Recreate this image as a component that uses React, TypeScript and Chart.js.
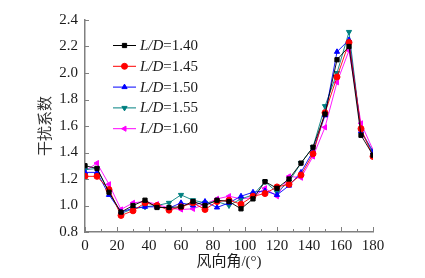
import React, { useEffect, useRef } from 'react';
import { Chart, registerables } from 'chart.js';
import { drawPoint } from 'chart.js/helpers';

Chart.register(...registerables);

const angles = [0, 7.5, 15, 22.5, 30, 37.5, 45, 52.5, 60, 67.5, 75, 82.5, 90, 97.5, 105, 112.5, 120, 127.5, 135, 142.5, 150, 157.5, 165, 172.5, 180];

const ld140 = [1.30, 1.28, 1.10, 0.95, 1.00, 1.04, 0.985, 0.985, 0.99, 1.03, 1.00, 1.04, 1.03, 0.975, 1.05, 1.18, 1.13, 1.20, 1.32, 1.44, 1.69, 2.10, 2.20, 1.53, 1.38];
const ld145 = [1.22, 1.22, 1.12, 0.925, 0.96, 1.02, 1.00, 0.965, 0.99, 1.02, 0.97, 1.03, 1.04, 1.01, 1.07, 1.09, 1.14, 1.16, 1.23, 1.39, 1.70, 1.97, 2.23, 1.58, 1.37];
const ld150 = [1.25, 1.25, 1.08, 0.95, 0.98, 0.99, 0.99, 0.98, 1.02, 1.00, 1.03, 0.985, 1.02, 1.07, 1.10, 1.11, 1.08, 1.15, 1.25, 1.41, 1.68, 2.16, 2.25, 1.56, 1.40];
const ld155 = [1.27, 1.28, 1.10, 0.94, 0.975, 0.99, 1.00, 1.02, 1.08, 1.04, 1.02, 1.03, 1.00, 1.05, 1.08, 1.18, 1.10, 1.18, 1.32, 1.44, 1.75, 2.00, 2.31, 1.56, 1.41];
const ld160 = [1.26, 1.32, 1.16, 0.97, 1.02, 1.03, 1.01, 0.98, 0.97, 0.975, 1.01, 1.05, 1.07, 1.05, 1.06, 1.13, 1.07, 1.22, 1.21, 1.37, 1.59, 1.93, 2.17, 1.62, 1.42];

const seriesValues = [ld140, ld145, ld150, ld155, ld160];
const seriesLabels = ['1.40', '1.45', '1.50', '1.55', '1.60'];
const seriesColors = ['#000000', '#ff0000', '#0000ff', '#008080', '#ff00ff'];
const seriesPointStyles = ['rect', 'circle', 'triangle', 'triangle', 'triangle'];
const seriesRotations = [0, 0, 0, 180, -90];

const xTitle = '风向角/(°)';
const yTitle = '干扰系数';
const xMin = 0, xMax = 180, xStep = 20;
const yMin = 0.8, yMax = 2.4, yStep = 0.2;

const axisColor = '#808080';
const textColor = '#1a1a1a';
const serif = "'Liberation Serif', 'Times New Roman', serif";
const cjk = "'Liberation Serif', 'Noto Sans CJK SC', sans-serif";

const tickPlugin = {
  id: 'tickMarks',
  afterDraw(chart: any) {
    const { ctx, chartArea, scales } = chart;
    const xs = scales.x, ys = scales.y;
    ctx.save();
    ctx.strokeStyle = axisColor;
    ctx.lineWidth = 1;
    const xt = xs.ticks.map((t: any) => t.value);
    const all: { v: number; major: boolean }[] = [];
    xt.forEach((v: number, i: number) => {
      all.push({ v, major: true });
      if (i < xt.length - 1) all.push({ v: (v + xt[i + 1]) / 2, major: false });
    });
    all.forEach(({ v, major }) => {
      const px = Math.round(xs.getPixelForValue(v)) + 0.5;
      const len = major ? 5 : 3;
      ctx.beginPath();
      ctx.moveTo(px, chartArea.bottom);
      ctx.lineTo(px, chartArea.bottom - len);
      ctx.stroke();
    });
    ys.ticks.forEach((t: any) => {
      const py = Math.round(ys.getPixelForValue(t.value)) + 0.5;
      ctx.beginPath();
      ctx.moveTo(chartArea.left, py);
      ctx.lineTo(chartArea.left + 4, py);
      ctx.stroke();
    });
    ctx.restore();
  },
};

const legendPlugin = {
  id: 'ldLegend',
  afterDraw(chart: any) {
    const { ctx } = chart;
    const x0 = 113, x1 = 136, tx = 140, y0 = 45, dy = 20.8;
    ctx.save();
    chart.data.datasets.forEach((ds: any, i: number) => {
      const y = y0 + i * dy;
      ctx.strokeStyle = ds.borderColor;
      ctx.lineWidth = 1;
      ctx.beginPath();
      ctx.moveTo(x0, y + 0.5);
      ctx.lineTo(x1, y + 0.5);
      ctx.stroke();
      ctx.fillStyle = ds.backgroundColor;
      ctx.strokeStyle = ds.borderColor;
      drawPoint(ctx, { pointStyle: ds.pointStyle, rotation: ds.pointRotation, radius: ds.pointRadius, borderWidth: 1 }, (x0 + x1) / 2, y + 0.5);
      ctx.fillStyle = textColor;
      ctx.textBaseline = 'middle';
      ctx.textAlign = 'left';
      ctx.font = `italic 15px ${serif}`;
      const a = 'L/D';
      ctx.fillText(a, tx, y + 1);
      const w = ctx.measureText(a).width;
      ctx.font = `15px ${serif}`;
      ctx.fillText('=' + seriesLabels[i], tx + w, y + 1);
    });
    ctx.restore();
  },
};

export default function App() {
  const ref = useRef<HTMLCanvasElement | null>(null);
  useEffect(() => {
    if (!ref.current) return;
    const chart = new Chart(ref.current, {
      type: 'line',
      data: {
        datasets: seriesValues.map((vals, i) => ({
          label: 'L/D=' + seriesLabels[i],
          data: angles.map((a, j) => ({ x: a, y: vals[j] })),
          borderColor: seriesColors[i],
          backgroundColor: seriesColors[i],
          borderWidth: 0.9,
          pointStyle: seriesPointStyles[i] as any,
          pointRotation: seriesRotations[i],
          pointRadius: 3,
          pointBorderWidth: 1,
          tension: 0,
        })),
      },
      options: {
        responsive: false,
        animation: false,
        events: [],
        layout: { padding: { left: 0, top: 20, right: 52, bottom: 0 } },
        plugins: { legend: { display: false }, tooltip: { enabled: false } },
        scales: {
          x: {
            type: 'linear',
            min: xMin,
            max: xMax,
            grid: { display: true, drawOnChartArea: false, drawTicks: false },
            border: { display: true, color: axisColor, width: 1.5 },
            ticks: { stepSize: xStep, padding: 5, color: textColor, font: { family: serif, size: 15 }, maxRotation: 0 },
            title: { display: true, text: xTitle, color: textColor, font: { family: cjk, size: 15 }, padding: { top: 0, bottom: 7 } },
            afterFit: (s: any) => { s.height = 46; },
          },
          y: {
            type: 'linear',
            min: yMin,
            max: yMax,
            grid: { display: true, drawOnChartArea: false, drawTicks: false },
            border: { display: true, color: axisColor, width: 1.5 },
            ticks: { stepSize: yStep, padding: 7, color: textColor, font: { family: serif, size: 15 }, callback: (v: any) => Number(v).toFixed(1) },
            title: { display: true, text: yTitle, color: '#333333', font: { family: cjk, size: 15 }, padding: { top: 37, bottom: 0 } },
            afterFit: (s: any) => { s.width = 85; },
          },
        },
      },
      plugins: [tickPlugin, legendPlugin],
    });
    return () => chart.destroy();
  }, []);
  return (
    <div style={{ position: 'absolute', left: 0, top: 0, width: 425, height: 278, background: '#fff' }}>
      <canvas ref={ref} width={425} height={278} />
    </div>
  );
}
